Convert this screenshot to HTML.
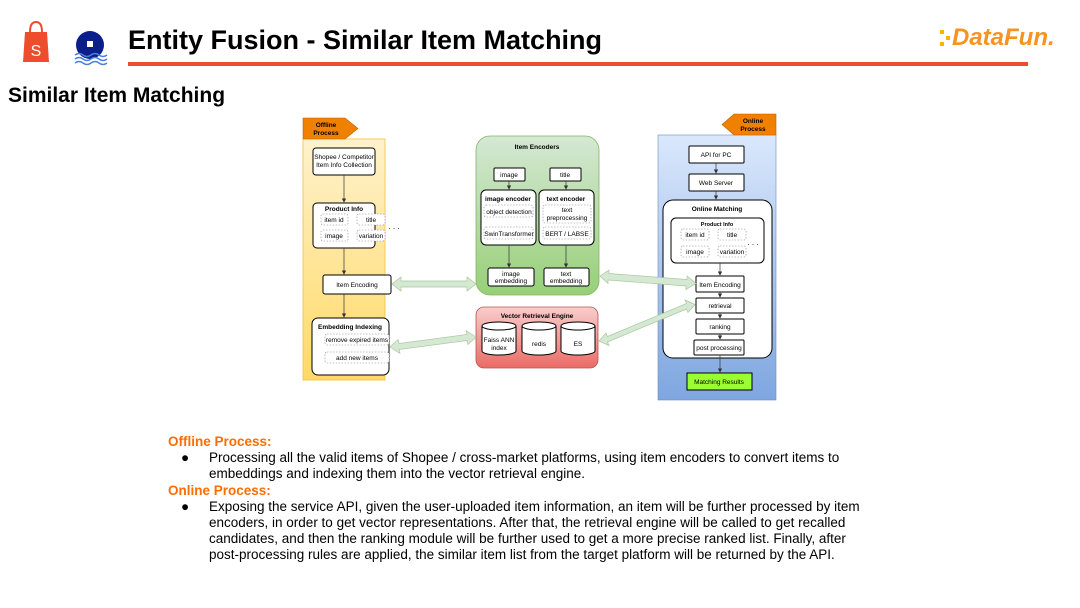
<!DOCTYPE html>
<html><head><meta charset="utf-8"><style>
html,body{margin:0;padding:0;background:#fff;}
svg{display:block;font-family:"Liberation Sans",sans-serif;}
</style></head><body>
<svg width="1080" height="608" viewBox="0 0 1080 608" xmlns="http://www.w3.org/2000/svg">
<defs>
<linearGradient id="gy" x1="0" y1="0" x2="0" y2="1"><stop offset="0" stop-color="#fff2cc"/><stop offset="1" stop-color="#ffd966"/></linearGradient>
<linearGradient id="gg" x1="0" y1="0" x2="0" y2="1"><stop offset="0" stop-color="#d5e8d4"/><stop offset="1" stop-color="#97d077"/></linearGradient>
<linearGradient id="gr" x1="0" y1="0" x2="0" y2="1"><stop offset="0" stop-color="#f8cecc"/><stop offset="1" stop-color="#ea6b66"/></linearGradient>
<linearGradient id="gb" x1="0" y1="0" x2="0" y2="1"><stop offset="0" stop-color="#dae8fc"/><stop offset="1" stop-color="#7ea6e0"/></linearGradient>
<marker id="ar" markerWidth="6" markerHeight="6" refX="5" refY="3" orient="auto"><path d="M0,0 L6,3 L0,6z" fill="#333"/></marker>
</defs>
<!-- header -->
<path d="M25,32 h22 l2,30 h-26z" fill="#ee4d2d"/>
<path d="M30,32 q0,-10 6,-10 q6,0 6,10" fill="none" stroke="#ee4d2d" stroke-width="2"/>
<text x="36" y="56" font-size="16" fill="#fff" text-anchor="middle">S</text>
<circle cx="90" cy="45" r="14" fill="#0b1e8a"/>
<rect x="87" y="41" width="6" height="6" fill="#fff"/>
<path d="M75,55 q4,-3 8,0 t8,0 t8,0 t8,0 M75,59 q4,-3 8,0 t8,0 t8,0 t8,0 M75,63 q4,-3 8,0 t8,0 t8,0 t8,0" stroke="#4a7fe0" stroke-width="1.5" fill="none"/>
<text x="128" y="49" font-size="27" font-weight="bold" fill="#000">Entity Fusion - Similar Item Matching</text>
<rect x="128" y="62" width="900" height="4" fill="#ee4d2d"/>
<text x="952" y="45" font-size="24" font-weight="bold" font-style="italic" fill="#f7931e">DataFun.</text>
<rect x="940" y="30" width="4" height="4" fill="#f7b500"/><rect x="946" y="36" width="4" height="4" fill="#f7b500"/><rect x="940" y="42" width="4" height="4" fill="#f7b500"/>
<text x="8" y="102" font-size="21" font-weight="bold" fill="#000">Similar Item Matching</text>

<g font-size="6.5" text-anchor="middle" fill="#000">
<!-- offline -->
<rect x="303" y="139" width="82" height="241" fill="url(#gy)" stroke="#f0c040" stroke-width="0.8"/>
<path d="M303,118 h42 l13,10.5 l-13,10.5 h-42z" fill="#f08000" stroke="#c06000" stroke-width="0.6"/>
<text x="326" y="127" font-weight="bold" font-size="6.5">Offline</text><text x="326" y="135" font-weight="bold" font-size="6.5">Process</text>
<g stroke="#000" stroke-width="1" fill="#fff">
<rect x="313" y="148" width="62" height="27" rx="3"/>
<rect x="313" y="203" width="62" height="45" rx="4"/>
<rect x="323" y="275" width="68" height="19" rx="2"/>
<rect x="312" y="318" width="77" height="57" rx="6"/>
</g>
<text x="344" y="159">Shopee / Competitor</text><text x="344" y="167">Item Info Collection</text>
<text x="344" y="211" font-weight="bold">Product Info</text>
<g fill="#fff" stroke="#888" stroke-dasharray="1.5,1.5" stroke-width="0.6">
<rect x="321" y="214" width="27" height="11" rx="2"/><rect x="357" y="214" width="28" height="11" rx="2"/>
<rect x="321" y="230" width="27" height="11" rx="2"/><rect x="357" y="230" width="28" height="11" rx="2"/>
<rect x="325" y="334" width="64" height="11" rx="2"/><rect x="325" y="352" width="64" height="11" rx="2"/>
</g>
<text x="334" y="222">item id</text><text x="371" y="222">title</text><text x="334" y="238">image</text><text x="371" y="238">variation</text>
<text x="394" y="229" font-size="8">. . .</text>
<text x="357" y="287">Item Encoding</text>
<text x="350" y="329" font-weight="bold">Embedding Indexing</text>
<text x="357" y="342">remove expired items</text><text x="357" y="360">add new items</text>
<g stroke="#333" stroke-width="0.7" marker-end="url(#ar)">
<line x1="344" y1="175" x2="344" y2="202"/><line x1="344" y1="248" x2="344" y2="274"/><line x1="344" y1="294" x2="344" y2="317"/>
</g>

<!-- green -->
<rect x="476" y="136" width="123" height="159" rx="14" fill="url(#gg)" stroke="#82b366" stroke-width="0.8"/>
<text x="537" y="149" font-weight="bold">Item Encoders</text>
<g stroke="#000" stroke-width="1" fill="#fff">
<rect x="494" y="168" width="31" height="13" rx="1"/><rect x="550" y="168" width="31" height="13" rx="1"/>
<rect x="481" y="190" width="55" height="55" rx="5"/><rect x="539" y="190" width="55" height="55" rx="5"/>
<rect x="488" y="268" width="46" height="18" rx="2"/><rect x="544" y="268" width="45" height="18" rx="2"/>
</g>
<text x="509" y="177">image</text><text x="565" y="177">title</text>
<text x="508" y="201" font-weight="bold">image encoder</text><text x="566" y="201" font-weight="bold">text encoder</text>
<g fill="#fff" stroke="#888" stroke-dasharray="1.5,1.5" stroke-width="0.6">
<rect x="484" y="205" width="49" height="12" rx="2"/><rect x="484" y="227" width="49" height="12" rx="2"/>
<rect x="543" y="205" width="48" height="18" rx="2"/><rect x="543" y="227" width="48" height="12" rx="2"/>
</g>
<text x="509" y="214">object detection</text><text x="509" y="236">SwinTransformer</text>
<text x="567" y="212">text</text><text x="567" y="220">preprocessing</text><text x="567" y="236">BERT / LABSE</text>
<text x="511" y="276">image</text><text x="511" y="283">embedding</text>
<text x="566" y="276">text</text><text x="566" y="283">embedding</text>
<g stroke="#333" stroke-width="0.7" marker-end="url(#ar)">
<line x1="509" y1="181" x2="509" y2="189"/><line x1="566" y1="181" x2="566" y2="189"/>
<line x1="509" y1="245" x2="509" y2="267"/><line x1="566" y1="245" x2="566" y2="267"/>
</g>

<!-- red -->
<rect x="476" y="307" width="122" height="61" rx="8" fill="url(#gr)" stroke="#b85450" stroke-width="0.8"/>
<text x="537" y="318" font-weight="bold">Vector Retrieval Engine</text>
<g fill="#fff" stroke="#000" stroke-width="1">
<path d="M482,326 v25 a17,4 0 0 0 34,0 v-25"/><ellipse cx="499" cy="326" rx="17" ry="4"/>
<path d="M522,326 v25 a17,4 0 0 0 34,0 v-25"/><ellipse cx="539" cy="326" rx="17" ry="4"/>
<path d="M561,326 v25 a17,4 0 0 0 34,0 v-25"/><ellipse cx="578" cy="326" rx="17" ry="4"/>
</g>
<text x="499" y="342">Faiss ANN</text><text x="499" y="350">index</text>
<text x="539" y="346">redis</text><text x="578" y="346">ES</text>

<!-- online -->
<rect x="658" y="135" width="118" height="265" fill="url(#gb)" stroke="#6c8ebf" stroke-width="0.6"/>
<path d="M776,114 h-42 l-12,10.5 l12,10.5 h42z" fill="#f08000" stroke="#c06000" stroke-width="0.6"/>
<text x="753" y="123" font-weight="bold">Online</text><text x="753" y="131" font-weight="bold">Process</text>
<g stroke="#000" stroke-width="1" fill="#fff">
<rect x="689" y="146" width="55" height="17" rx="1"/>
<rect x="689" y="174" width="55" height="17" rx="1"/>
<rect x="663" y="200" width="109" height="158" rx="10"/>
<rect x="671" y="218" width="93" height="45" rx="5"/>
<rect x="696" y="276" width="48" height="16" rx="1"/>
<rect x="696" y="298" width="48" height="15" rx="1"/>
<rect x="696" y="319" width="48" height="15" rx="1"/>
<rect x="694" y="340" width="50" height="15" rx="1"/>
</g>
<rect x="687" y="373" width="65" height="17" fill="#99ff33" stroke="#000" stroke-width="1"/>
<text x="716" y="157">API for PC</text><text x="716" y="185">Web Server</text>
<text x="717" y="211" font-weight="bold">Online Matching</text>
<text x="717" y="226" font-weight="bold" font-size="5.5">Product Info</text>
<g fill="#fff" stroke="#888" stroke-dasharray="1.5,1.5" stroke-width="0.6">
<rect x="681" y="229" width="28" height="11" rx="2"/><rect x="718" y="229" width="28" height="11" rx="2"/>
<rect x="681" y="246" width="28" height="11" rx="2"/><rect x="718" y="246" width="28" height="11" rx="2"/>
</g>
<text x="695" y="237">item id</text><text x="732" y="237">title</text><text x="695" y="254">image</text><text x="732" y="254">variation</text>
<text x="753" y="245" font-size="8">. . .</text>
<text x="720" y="287">Item Encoding</text><text x="720" y="308">retrieval</text><text x="720" y="329">ranking</text><text x="719" y="350">post processing</text>
<text x="719" y="384">Matching Results</text>
<g stroke="#333" stroke-width="0.7" marker-end="url(#ar)">
<line x1="716" y1="163" x2="716" y2="173"/><line x1="716" y1="191" x2="716" y2="199"/>
<line x1="720" y1="263" x2="720" y2="275"/><line x1="720" y1="292" x2="720" y2="297"/>
<line x1="720" y1="313" x2="720" y2="318"/><line x1="720" y1="334" x2="720" y2="339"/>
<line x1="720" y1="355" x2="720" y2="372"/>
</g>
</g>

<!-- double arrows -->
<g fill="#d5e8d4" stroke="#a9c99a" stroke-width="0.7">
<path d="M392,284 l9,-7 v4 h66 v-4 l9,7 l-9,7 v-4 h-66 v4z"/>
<path d="M600,276 l9,-6 v3.5 l78,6 v-3.5 l9,7.5 l-10,6 v-3.5 l-78,-6 v3.5z"/>
<path d="M390,347 l8,-7.5 l1,4 l68,-9 l-1,-4 l10,6.5 l-8,7.5 l-1,-4 l-68,9 l1,4z"/>
<path d="M599,341 l7,-8 l1.5,3.5 l79,-33 l-1.5,-3.5 l10,4.5 l-7,8 l-1.5,-3.5 l-79,33 l1.5,3.5z"/>
</g>

<!-- text -->
<g font-size="13.5" fill="#000">
<text x="168" y="446" font-weight="bold" fill="#ff6d01">Offline Process:</text>
<text x="181" y="462">●</text>
<text x="209" y="462">Processing all the valid items of Shopee / cross-market platforms, using item encoders to convert items to</text>
<text x="209" y="478">embeddings and indexing them into the vector retrieval engine.</text>
<text x="168" y="495" font-weight="bold" fill="#ff6d01">Online Process:</text>
<text x="181" y="511">●</text>
<text x="209" y="511">Exposing the service API, given the user-uploaded item information, an item will be further processed by item</text>
<text x="209" y="527">encoders, in order to get vector representations. After that, the retrieval engine will be called to get recalled</text>
<text x="209" y="543">candidates, and then the ranking module will be further used to get a more precise ranked list. Finally, after</text>
<text x="209" y="559">post-processing rules are applied, the similar item list from the target platform will be returned by the API.</text>
</g>
</svg>
</body></html>
